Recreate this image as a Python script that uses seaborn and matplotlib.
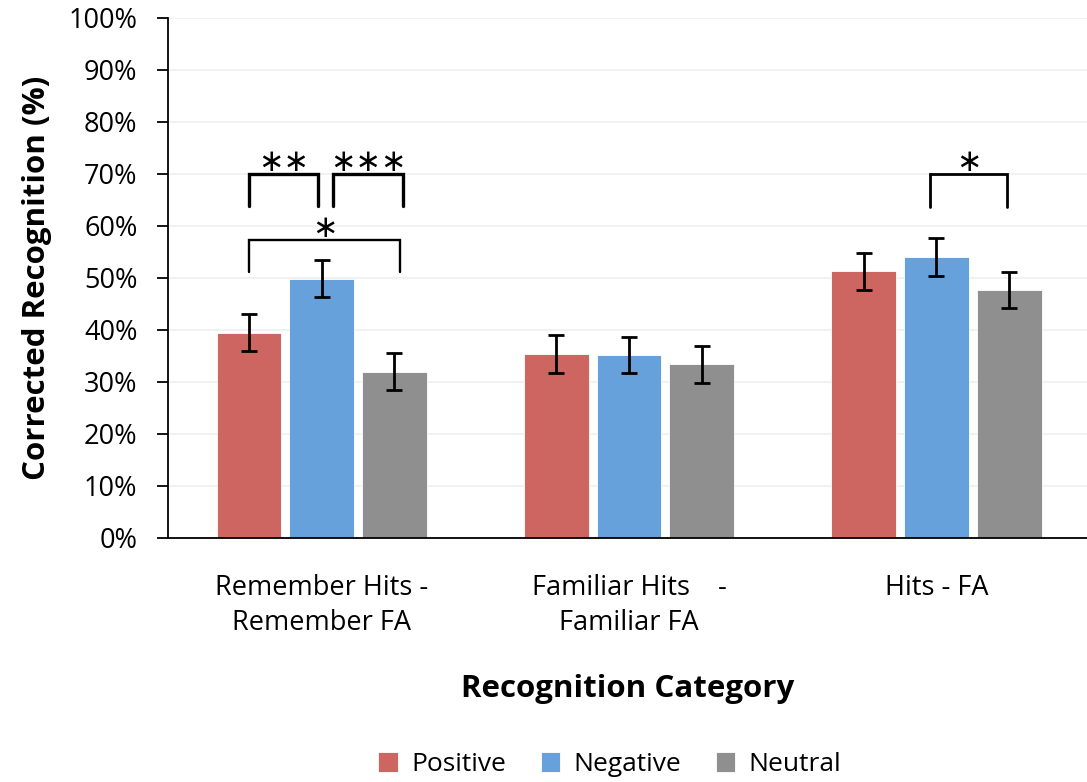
import matplotlib
matplotlib.use('Agg')
import matplotlib.pyplot as plt
import seaborn as sns
import pandas as pd
import numpy as np

# valeurs (en %)
categories = ['Remember Hits -\nRemember FA', 'Familiar Hits    -\nFamiliar FA', 'Hits - FA']
valences = ['Positive', 'Negative', 'Neutral']
positive = [39.5, 35.4, 51.3]
negative = [49.9, 35.2, 54.0]
neutral = [32.0, 33.4, 47.7]
positive_err = [3.6, 3.6, 3.6]
negative_err = [3.6, 3.5, 3.6]
neutral_err = [3.6, 3.6, 3.5]
colors = ['#CD6660', '#66A1DC', '#8F8F8F']
y_ticks = list(range(0, 101, 10))

# comparaisons significatives: (categorie, barre a, barre b, haut, bas, etoiles, decalages)
comparisons = [
    (0, 0, 1, 70.0, 63.9, '**', (0.0, -0.011), 2.4),
    (0, 1, 2, 70.0, 63.9, '***', (0.037, 0.028), 2.4),
    (0, 0, 2, 57.4, 51.1, '*', (0.0, 0.018), 1.7),
    (2, 1, 2, 70.0, 63.7, '*', (-0.02, -0.007), 2.0),
]

rows = []
for vals, errs, v in [(positive, positive_err, 'Positive'),
                      (negative, negative_err, 'Negative'),
                      (neutral, neutral_err, 'Neutral')]:
    for c, val, e in zip(categories, vals, errs):
        rows.append({'category': c, 'valence': v, 'value': val, 'err': e})
df = pd.DataFrame(rows)

sns.set_style('white')
plt.rcParams['font.family'] = ['Open Sans', 'DejaVu Sans']
plt.rcParams['text.color'] = 'black'
plt.rcParams['xtick.color'] = 'black'
plt.rcParams['ytick.color'] = 'black'
plt.rcParams['axes.labelcolor'] = 'black'

fig = plt.figure(figsize=(10.87, 7.82), dpi=100)
ax = fig.add_axes([168 / 1087, 244 / 782, 919 / 1087, 520 / 782])

sns.barplot(data=df, x='category', y='value', hue='valence', order=categories,
            hue_order=valences, palette=colors, width=0.71, gap=0.11,
            errorbar=None, saturation=1, ax=ax, edgecolor='white', linewidth=0.6)

centers = {}
for i, v in enumerate(valences):
    sub = df[df['valence'] == v].set_index('category').loc[categories]
    bars = ax.containers[i]
    xs = [b.get_x() + b.get_width() / 2 for b in bars]
    ax.errorbar(xs, sub['value'], yerr=sub['err'], fmt='none', ecolor='black',
                elinewidth=2, capsize=6, capthick=2, zorder=5)
    for j, x in enumerate(xs):
        centers[(j, i)] = x

# crochets de significativite
for cat, a, b, top, bottom, stars, (d1, d2), lw in comparisons:
    x1 = centers[(cat, a)] + d1
    x2 = centers[(cat, b)] + d2
    ax.plot([x1, x1, x2, x2], [bottom, top, top, bottom], color='black', lw=lw,
            solid_joinstyle='miter', clip_on=False)
    ax.text((x1 + x2) / 2, top + 2.2, '\u2217' * len(stars), ha='center', va='center',
            fontsize=22, color='black', family='DejaVu Sans')

ax.set_ylim(0, 100)
ax.set_xlim(-0.5, 2.49)
ax.set_yticks(y_ticks)
ax.set_yticklabels([f'{t}%' for t in y_ticks], fontsize=19.5)
ax.yaxis.grid(True, color='#efefef', linewidth=1.2)
ax.set_axisbelow(True)

ax.set_xticks(range(len(categories)))
ax.set_xticklabels(categories, fontsize=19.5)
for t in ax.get_xticklabels():
    t.set_linespacing(1.35)
ax.set_xticks([-0.5, 0.5, 1.5], minor=True)
ax.tick_params(axis='x', which='major', length=0, pad=26)
ax.tick_params(axis='x', which='minor', length=8, width=1.3, direction='out', color='black')
ax.tick_params(axis='y', length=8, width=1.3, direction='out', color='black', left=True, pad=14)

for s in ['top', 'right']:
    ax.spines[s].set_visible(False)
for s in ['left', 'bottom']:
    ax.spines[s].set_color('black')
    ax.spines[s].set_linewidth(1.3)

ax.set_ylabel('Corrected Recognition (%)', fontsize=22.5, fontweight='bold', labelpad=12)
ax.set_xlabel('Recognition Category', fontsize=22.5, fontweight='bold', labelpad=26)

handles, labels = ax.get_legend_handles_labels()
ax.get_legend().remove()
fig.legend(handles, labels, loc='center', bbox_to_anchor=(0.561, 0.022), ncol=3,
           frameon=False, fontsize=19, handlelength=0.75, handleheight=0.75,
           handletextpad=0.5, columnspacing=1.3)

fig.savefig('out.png', dpi=100)
